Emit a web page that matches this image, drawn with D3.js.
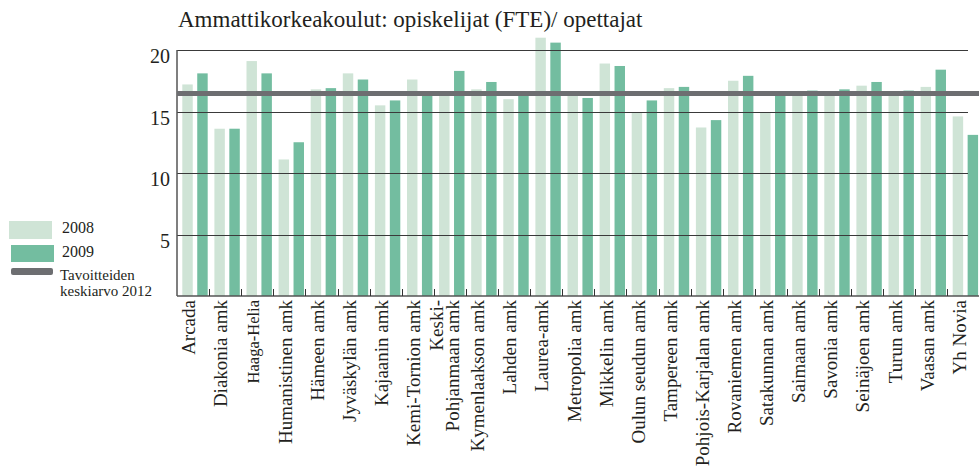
<!DOCTYPE html>
<meta charset="utf-8">
<script src="https://d3js.org/d3.v7.min.js"></script>
<style>
    body { margin: 0; background: #fff; }
    text { font-family: "Liberation Serif", "DejaVu Serif", serif; fill: #231f20; }
</style>
<div id="chart"></div>
<script>
    // data
    const schools = ["Arcada", "Diakonia amk", "Haaga-Helia", "Humanistinen amk", "Hämeen amk",
        "Jyväskylän amk", "Kajaanin amk", "Kemi-Tornion amk", "Keski-Pohjanmaan amk", "Kymenlaakson amk",
        "Lahden amk", "Laurea-amk", "Metropolia amk", "Mikkelin amk", "Oulun seudun amk",
        "Tampereen amk", "Pohjois-Karjalan amk", "Rovaniemen amk", "Satakunnan amk", "Saimaan amk",
        "Savonia amk", "Seinäjoen amk", "Turun amk", "Vaasan amk", "Yh Novia"]
    const years = ["2008", "2009"]
    const values2008 = [17.2, 13.6, 19.1, 11.1, 16.8, 18.1, 15.5, 17.6, 16.4, 16.8,
        16.0, 21.0, 16.4, 18.9, 14.9, 16.9, 13.7, 17.5, 14.9, 16.4,
        16.4, 17.1, 16.4, 17.0, 14.6]
    const values2009 = [18.1, 13.6, 18.1, 12.5, 16.9, 17.6, 15.9, 16.4, 18.3, 17.4,
        16.4, 20.6, 16.1, 18.7, 15.9, 17.0, 14.3, 17.9, 16.4, 16.7,
        16.8, 17.4, 16.7, 18.4, 13.1]
    const target2012 = 16.46
    const yTicks = [5, 10, 15, 20]

    const title = "Ammattikorkeakoulut: opiskelijat (FTE)/ opettajat"
    const color = d3.scaleOrdinal().domain(years).range(["#cfe4d6", "#73bda0"])

    const width = 979, height = 472
    const margin = {top: 50, right: 0, bottom: 176, left: 177}

    const svg = d3.select("#chart")
        .append("svg")
        .attr("width", width)
        .attr("height", height)

    const x = d3.scaleBand()
        .domain(schools)
        .range([margin.left, 979.5])

    const bw = x.bandwidth()
    const xYear = d3.scaleBand()
        .domain(years)
        .range([bw * 0.165, bw * 0.956])
        .paddingInner(0.3)

    const y = d3.scaleLinear()
        .domain([0, 20])
        .range([height - margin.bottom, margin.top])

    const rows = schools.map((s, i) => ({school: s, values: [values2008[i], values2009[i]]}))

    // title
    svg.append("text")
        .attr("x", 178)
        .attr("y", 27)
        .style("font-size", "23px")
        .text(title)

    // bars
    const groups = svg.selectAll(".school")
        .data(rows)
        .join("g")
        .attr("class", "school")
        .attr("transform", d => `translate(${x(d.school)},0)`)

    groups.selectAll("rect")
        .data(d => d.values.map((v, j) => ({year: years[j], value: v})))
        .join("rect")
        .attr("x", d => xYear(d.year))
        .attr("width", xYear.bandwidth())
        .attr("y", d => y(d.value))
        .attr("height", d => y(0) - y(d.value))
        .style("fill", d => color(d.year))

    // grid lines over the bars
    svg.selectAll(".grid")
        .data(yTicks)
        .join("line")
        .attr("class", "grid")
        .attr("x1", margin.left)
        .attr("x2", 968)
        .attr("y1", d => Math.round(y(d)) + 0.5)
        .attr("y2", d => Math.round(y(d)) + 0.5)
        .style("stroke", "#3a3a3a")
        .style("stroke-width", 1)

    svg.selectAll(".ylab")
        .data(yTicks)
        .join("text")
        .attr("class", "ylab")
        .attr("x", 170)
        .attr("y", d => y(d))
        .attr("dy", "0.65em")
        .attr("text-anchor", "end")
        .style("font-size", "20px")
        .text(d => d)

    // axes lines
    svg.append("line")
        .attr("x1", margin.left).attr("x2", margin.left)
        .attr("y1", y(20)).attr("y2", y(0))
        .style("stroke", "#555").style("stroke-width", 1.5)
    svg.append("line")
        .attr("x1", margin.left).attr("x2", width)
        .attr("y1", y(0)).attr("y2", y(0))
        .style("stroke", "#555").style("stroke-width", 1.5)

    // small ticks between the schools
    svg.selectAll(".xtick")
        .data(schools.slice(1))
        .join("line")
        .attr("class", "xtick")
        .attr("x1", d => Math.round(x(d)) + 0.5)
        .attr("x2", d => Math.round(x(d)) + 0.5)
        .attr("y1", y(0))
        .attr("y2", y(0) - 7)
        .style("stroke", "#333")
        .style("stroke-width", 1)

    // target line
    svg.append("line")
        .attr("x1", margin.left).attr("x2", width)
        .attr("y1", y(target2012)).attr("y2", y(target2012))
        .style("stroke", "#6d6e71")
        .style("stroke-width", 5)

    // x labels
    const labels = svg.selectAll(".xlab")
        .data(schools)
        .join("text")
        .attr("class", "xlab")
        .attr("text-anchor", "end")
        .attr("transform", d => `translate(${x(d) + bw / 2},300) rotate(-90)`)
        .style("font-size", d => d === "Haaga-Helia" ? "16.5px" : "19px")

    labels.filter(d => d !== "Keski-Pohjanmaan amk")
        .attr("dy", "0.12em")
        .text(d => d)

    labels.filter(d => d === "Keski-Pohjanmaan amk")
        .selectAll("tspan")
        .data(["Keski-", "Pohjanmaan amk"])
        .join("tspan")
        .attr("x", 0)
        .attr("dy", (d, i) => i === 0 ? "-0.35em" : "0.85em")
        .text(d => d)

    // legend
    const legend = svg.append("g")
    legend.append("rect").attr("x", 9).attr("y", 221).attr("width", 43).attr("height", 18)
        .style("fill", color("2008"))
    legend.append("rect").attr("x", 11).attr("y", 245).attr("width", 43).attr("height", 17)
        .style("fill", color("2009"))
    legend.append("rect").attr("x", 11).attr("y", 268).attr("width", 42).attr("height", 7).attr("rx", 2)
        .style("fill", "#6d6e71")
    const legendText = [["2008", 233], ["2009", 257], ["Tavoitteiden", 280], ["keskiarvo 2012", 296]]
    legend.selectAll("text")
        .data(legendText)
        .join("text")
        .attr("x", d => d[0].length > 4 ? 60 : 62)
        .attr("y", d => d[1])
        .style("font-size", d => d[0].length > 4 ? "15px" : "16px")
        .text(d => d[0])
</script>
